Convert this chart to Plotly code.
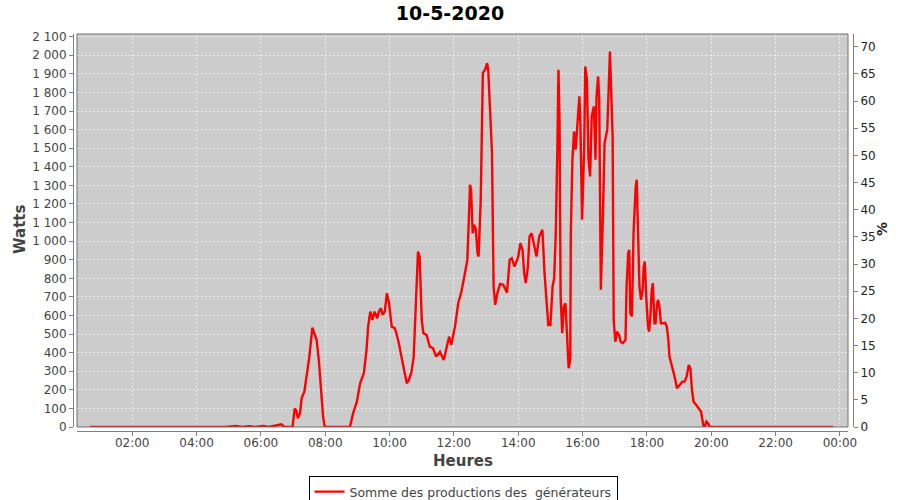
import plotly.graph_objects as go

DAY = "2020-05-10"

times = [
    "00:41", "01:30", "02:33", "02:40", "03:55", "04:05", "04:43", "04:55",
    "05:13", "05:25", "05:38", "05:50", "06:04", "06:15", "06:38", "06:44",
    "06:59", "07:03", "07:06", "07:09", "07:13", "07:16", "07:21", "07:25",
    "07:30", "07:36", "07:39", "07:44", "07:48", "07:53", "07:56", "07:59",
    "08:46", "08:52", "08:59", "09:05", "09:12", "09:17", "09:20", "09:24",
    "09:28", "09:32", "09:37", "09:40", "09:44", "09:47", "09:51", "09:55",
    "09:59", "10:04", "10:10", "10:16", "10:22", "10:27", "10:32", "10:36",
    "10:41", "10:45", "10:49", "10:53", "10:56", "11:00", "11:03", "11:09",
    "11:15", "11:21", "11:27", "11:34", "11:41", "11:46", "11:51", "11:55",
    "12:02", "12:08", "12:14", "12:20", "12:25", "12:28", "12:30", "12:32",
    "12:35", "12:38", "12:41", "12:44", "12:46", "12:50", "12:52", "12:54",
    "12:58", "13:02", "13:04", "13:07", "13:11", "13:14", "13:17", "13:21",
    "13:26", "13:32", "13:39", "13:44", "13:48", "13:53", "14:00", "14:04",
    "14:08", "14:11", "14:14", "14:18", "14:21", "14:25", "14:29", "14:34",
    "14:39", "14:45", "14:49", "14:53", "14:56", "15:00", "15:04", "15:07",
    "15:10", "15:13", "15:15", "15:17", "15:19", "15:22", "15:25", "15:28",
    "15:31", "15:34", "15:37", "15:38", "15:41", "15:44", "15:47", "15:50",
    "15:54", "15:56", "15:59", "16:03", "16:05", "16:08", "16:11", "16:14",
    "16:17", "16:21", "16:24", "16:26", "16:29", "16:31", "16:34", "16:38",
    "16:41", "16:46", "16:49", "16:51", "16:53", "16:56", "16:58", "17:01",
    "17:04", "17:08", "17:11", "17:15", "17:20", "17:22", "17:25", "17:27",
    "17:29", "17:32", "17:35", "17:39", "17:41", "17:44", "17:46", "17:49",
    "17:52", "17:54", "17:56", "17:59", "18:02", "18:04", "18:06", "18:09",
    "18:11", "18:14", "18:16", "18:19", "18:21", "18:24", "18:26", "18:30",
    "18:34", "18:37", "18:40", "18:42", "18:46", "18:50", "18:53", "18:56",
    "19:01", "19:06", "19:10", "19:14", "19:18", "19:21", "19:24", "19:27",
    "19:32", "19:38", "19:41", "19:45", "19:48", "19:51", "19:54", "19:57",
    "20:30", "20:40", "21:30", "22:15", "23:05", "23:12", "23:47",
]

watts = [
    0, 0, 3, 0, 3, 0, 4, 0,
    5, 0, 4, 0, 5, 0, 15, 0,
    0, 99, 88, 47, 74, 154, 190, 271,
    370, 535, 513, 468, 361, 163, 55, 0,
    0, 74, 136, 235, 289, 415, 540, 621,
    576, 621, 585, 621, 639, 603, 621, 720,
    666, 540, 531, 468, 379, 298, 235, 253,
    298, 379, 702, 944, 917, 576, 505, 495,
    432, 424, 379, 405, 361, 424, 486, 442,
    540, 666, 729, 819, 899, 1133, 1303, 1276,
    1043, 1088, 1061, 935, 917, 1222, 1653, 1905,
    1922, 1958, 1922, 1743, 1474, 756, 657, 720,
    770, 765, 723, 899, 908, 863, 917, 989,
    953, 828, 774, 863, 1025, 1043, 989, 917,
    1025, 1061, 828, 648, 549, 549, 756, 801,
    1043, 1509, 1922, 1635, 702, 505, 648, 666,
    486, 316, 361, 1043, 1438, 1590, 1492, 1599,
    1779, 1617, 1115, 1509, 1940, 1869, 1438, 1348,
    1671, 1725, 1438, 1779, 1886, 1761, 738, 1151,
    1527, 1599, 1922, 2020, 1833, 1563, 576, 459,
    513, 495, 459, 451, 468, 756, 935, 953,
    612, 594, 1043, 1294, 1330, 971, 756, 684,
    738, 863, 890, 684, 540, 513, 576, 738,
    774, 558, 558, 666, 684, 630, 558, 558,
    560, 540, 468, 379, 325, 289, 253, 208,
    226, 244, 244, 271, 334, 316, 199, 136,
    118, 92, 82, 11, 0, 29, 20, 0,
    3, 0, 0, 0, 3, 0, 0,
]

series_name = "Somme des productions des \u00a0générateurs"
chart_title = "10-5-2020"
left_title = "Watts"
right_title = "%"
x_title = "Heures"

x_vals = [f"{DAY} {t}" for t in times]

FONT = "DejaVu Sans"
GRAY = "#808080"
GRID = "#ececec"

fig = go.Figure()
fig.add_trace(go.Scatter(
    x=x_vals, y=watts, mode="lines", name=series_name,
    line=dict(color="#ff0000", width=2.4),
))
fig.add_trace(go.Scatter(x=[], y=[], yaxis="y2", showlegend=False, hoverinfo="skip"))

L, R, T, B = 73, 47, 34, 69
PW, PH = 900 - L - R, 500 - T - B

fig.update_layout(
    width=900, height=500,
    margin=dict(l=L, r=R, t=T, b=B, pad=0, autoexpand=False),
    paper_bgcolor="white",
    plot_bgcolor="#cccccc",
    separators=". ",
    font=dict(family=FONT, size=12, color="#444444"),
    showlegend=True,
    title=dict(text=chart_title, x=0.5, xanchor="center", y=1 - 13 / 500, yanchor="middle",
               font=dict(family=FONT, size=19, color="black", weight="bold")),
    xaxis=dict(
        type="date",
        domain=[4 / PW, (848 - L) / PW],
        anchor="free", position=0,
        range=[f"{DAY} 00:17", "2020-05-11 00:15"],
        tick0=f"{DAY} 00:00", dtick=7200000, tickformat="%H:%M",
        showgrid=True, gridcolor=GRID, griddash="2px,2px", gridwidth=1,
        showline=True, linecolor=GRAY, linewidth=1,
        ticks="outside", ticklen=4, tickcolor=GRAY,
        ticklabelstandoff=-3,
        tickfont=dict(family=FONT, size=12, color="#444444"),
        zeroline=False, automargin=False,
    ),
    yaxis=dict(
        domain=[4 / PH, 1],
        anchor="free", position=0,
        range=[0, 2114.5], dtick=100, tick0=0,
        separatethousands=True,
        showgrid=True, gridcolor=GRID, griddash="2px,2px", gridwidth=1,
        showline=True, linecolor=GRAY, linewidth=1,
        ticks="outside", ticklen=4, tickcolor=GRAY,
        tickfont=dict(family=FONT, size=12, color="#444444"),
        zeroline=False, automargin=False,
    ),
    yaxis2=dict(
        overlaying="y", side="right", anchor="free", position=1,
        range=[0, 72.34], dtick=5, tick0=0,
        showgrid=False, zeroline=False,
        showline=True, linecolor=GRAY, linewidth=1,
        ticks="outside", ticklen=4, tickcolor=GRAY,
        tickfont=dict(family=FONT, size=12, color="#222222"),
        automargin=False,
    ),
    legend=dict(
        orientation="h", x=0.5, xanchor="center",
        y=-(476 - (500 - B)) / PH, yanchor="top",
        bgcolor="white", bordercolor="black", borderwidth=1,
        font=dict(family=FONT, size=12.5, color="#444444"),
        itemwidth=30,
    ),
    annotations=[
        dict(text=left_title, xref="paper", yref="paper",
             x=(20 - L) / PW, y=(500 - B - 230) / PH, textangle=-90,
             showarrow=False, xanchor="center", yanchor="middle",
             font=dict(family=FONT, size=15, color="#444444", weight="bold")),
        dict(text=right_title, xref="paper", yref="paper",
             x=(882 - L) / PW, y=(500 - B - 229) / PH, textangle=-90,
             showarrow=False, xanchor="center", yanchor="middle",
             font=dict(family=FONT, size=14, color="#222222", weight="bold")),
        dict(text=x_title, xref="paper", yref="paper",
             x=(462.5 - L) / PW, y=(500 - B - 461) / PH,
             showarrow=False, xanchor="center", yanchor="middle",
             font=dict(family=FONT, size=15, color="#444444", weight="bold")),
    ],
    shapes=[
        dict(type="rect", xref="x domain", yref="y domain", x0=0, x1=1, y0=0, y1=1,
             line=dict(color="#707070", width=1), fillcolor="rgba(0,0,0,0)", layer="above"),
    ],
)

fig.write_html("out.html", config={"displayModeBar": False},
               post_script="document.body.style.margin='0px';")
